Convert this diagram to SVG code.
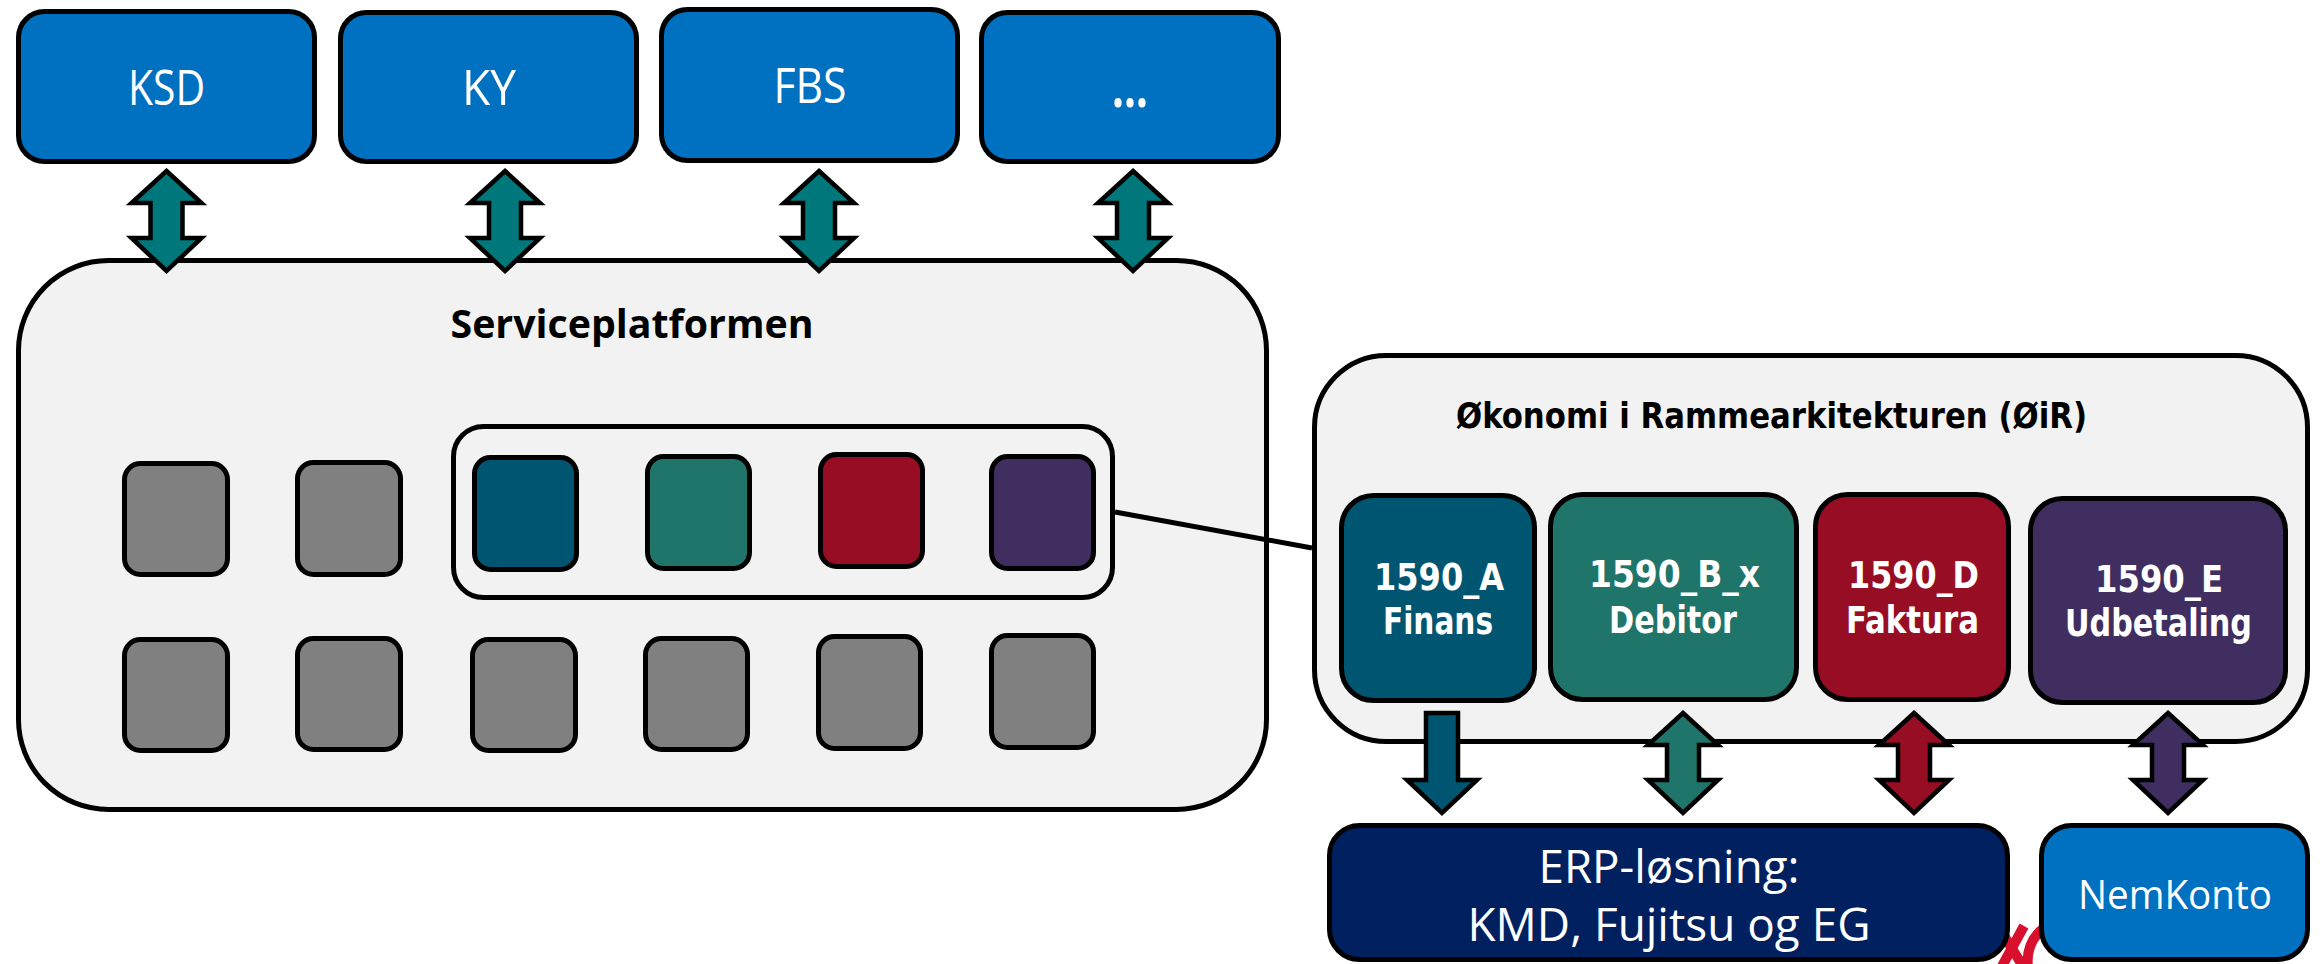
<svg xmlns="http://www.w3.org/2000/svg" width="2320" height="964" viewBox="0 0 2320 964">
<defs>
<style>
.box{stroke:#000;stroke-width:5}
.top{fill:#0070C0}
.plat{fill:#F2F2F2}
.sq{fill:#808080;stroke:#000;stroke-width:5}
.arr{stroke:#000;stroke-width:4.5;stroke-linejoin:miter;stroke-miterlimit:10}
.lbl{font-family:"Open Sans","Liberation Sans",sans-serif;fill:#fff;text-anchor:middle}
.oir{font-family:"DejaVu Sans","Liberation Sans",sans-serif;font-weight:bold;font-stretch:condensed;fill:#fff;text-anchor:middle;font-size:37px}
.c1{fill:#005670}.c2{fill:#20756A}.c3{fill:#970D24}.c4{fill:#3F2E5F}.teal{fill:#00777B}
</style>
<path id="dbl" d="M0,0 L35,32 L16,32 L16,67 L35,67 L0,100 L-35,67 L-16,67 L-16,32 L-35,32 Z"/>
<path id="down" d="M-16,0 L16,0 L16,67 L35,67 L0,100 L-35,67 L-16,67 Z"/>
</defs>
<rect width="2320" height="964" fill="#fff"/>

<g id="red-fragment" fill="none" stroke="#D9102D" stroke-width="10">
<path d="M2024,926 L2001,968"/>
<path d="M1998,926 L2024,968"/>
<path d="M2045,927 Q2025,942 2028,968"/>
</g>

<g id="KSD"><rect class="box top" x="18.5" y="11.5" width="296" height="150" rx="26"/><text class="lbl" x="166.5" y="105" font-size="50" textLength="77" lengthAdjust="spacingAndGlyphs">KSD</text></g>
<g id="KY"><rect class="box top" x="340.5" y="12.5" width="296" height="149" rx="26"/><text class="lbl" x="489" y="105" font-size="50" textLength="54" lengthAdjust="spacingAndGlyphs">KY</text></g>
<g id="FBS"><rect class="box top" x="661.5" y="9.5" width="296" height="151" rx="26"/><text class="lbl" x="810" y="103" font-size="50" textLength="73" lengthAdjust="spacingAndGlyphs">FBS</text></g>
<g id="more"><rect class="box top" x="981.5" y="12.5" width="297" height="149" rx="26"/><text class="lbl" x="1130" y="107" font-size="58" font-weight="bold" textLength="36" lengthAdjust="spacingAndGlyphs">…</text></g>

<g id="serviceplatformen">
<rect class="box plat" x="18.5" y="260.5" width="1248" height="549" rx="90"/>
<text x="632" y="338" font-family="'Open Sans','Liberation Sans',sans-serif" font-weight="bold" font-size="40" text-anchor="middle" textLength="363" lengthAdjust="spacingAndGlyphs" fill="#000">Serviceplatformen</text>
<rect class="sq" x="124.5" y="463.5" width="103" height="111" rx="16"/>
<rect class="sq" x="297.5" y="462.5" width="103" height="112" rx="16"/>
<rect x="453.5" y="426.5" width="659" height="171" rx="30" fill="#F2F2F2" stroke="#000" stroke-width="5"/>
<rect class="sq c1" x="474.5" y="457.5" width="102" height="112" rx="16"/>
<rect class="sq c2" x="647.5" y="456.5" width="102" height="112" rx="16"/>
<rect class="sq c3" x="820.5" y="454.5" width="102" height="112" rx="16"/>
<rect class="sq c4" x="991.5" y="456.5" width="102" height="112" rx="16"/>
<rect class="sq" x="124.5" y="639.5" width="103" height="111" rx="16"/>
<rect class="sq" x="297.5" y="638.5" width="103" height="111" rx="16"/>
<rect class="sq" x="472.5" y="639.5" width="103" height="111" rx="16"/>
<rect class="sq" x="645.5" y="638.5" width="102" height="111" rx="16"/>
<rect class="sq" x="818.5" y="636.5" width="102" height="112" rx="16"/>
<rect class="sq" x="991.5" y="635.5" width="102" height="112" rx="16"/>
</g>

<g id="oir">
<rect class="box plat" x="1314.5" y="355.5" width="993" height="386" rx="72"/>
<text x="1456" y="428" font-family="'DejaVu Sans','Liberation Sans',sans-serif" font-weight="bold" font-stretch="condensed" font-size="36" textLength="631" lengthAdjust="spacingAndGlyphs" fill="#000">Økonomi i Rammearkitekturen (ØiR)</text>
</g>
<g id="finans"><rect class="box c1" x="1341.5" y="495.5" width="193" height="205" rx="32"/><text class="oir" x="1439" y="590" textLength="130" lengthAdjust="spacingAndGlyphs">1590_A</text><text class="oir" x="1438" y="634" textLength="110" lengthAdjust="spacingAndGlyphs">Finans</text></g>
<g id="debitor"><rect class="box c2" x="1550.5" y="494.5" width="246" height="205" rx="32"/><text class="oir" x="1674.5" y="587" textLength="171" lengthAdjust="spacingAndGlyphs">1590_B_x</text><text class="oir" x="1673" y="633" textLength="128" lengthAdjust="spacingAndGlyphs">Debitor</text></g>
<g id="faktura"><rect class="box c3" x="1815.5" y="494.5" width="193" height="205" rx="32"/><text class="oir" x="1913.5" y="588" textLength="131" lengthAdjust="spacingAndGlyphs">1590_D</text><text class="oir" x="1912.5" y="633" textLength="133" lengthAdjust="spacingAndGlyphs">Faktura</text></g>
<g id="udbetaling"><rect class="box c4" x="2030.5" y="498.5" width="255" height="204" rx="32"/><text class="oir" x="2159" y="592" textLength="128" lengthAdjust="spacingAndGlyphs">1590_E</text><text class="oir" x="2158.5" y="636" textLength="187" lengthAdjust="spacingAndGlyphs">Udbetaling</text></g>

<g id="erp"><rect class="box" fill="#002060" x="1329.5" y="825.5" width="678" height="134" rx="30"/><text class="lbl" x="1669" y="883" font-size="46" textLength="261" lengthAdjust="spacingAndGlyphs">ERP-løsning:</text><text class="lbl" x="1669" y="941" font-size="46" textLength="403" lengthAdjust="spacingAndGlyphs">KMD, Fujitsu og EG</text></g>
<g id="nemkonto"><rect class="box top" x="2041.5" y="825.5" width="266" height="134" rx="30"/><text class="lbl" x="2175" y="909" font-size="40" textLength="194" lengthAdjust="spacingAndGlyphs">NemKonto</text></g>

<g id="connectors">
<line x1="1115" y1="512" x2="1312" y2="548" stroke="#000" stroke-width="5"/>
<use href="#dbl" class="arr teal" x="166.5" y="171"/>
<use href="#dbl" class="arr teal" x="505" y="171"/>
<use href="#dbl" class="arr teal" x="819" y="171"/>
<use href="#dbl" class="arr teal" x="1133" y="171"/>
<use href="#down" class="arr c1" x="1442" y="713"/>
<use href="#dbl" class="arr c2" x="1683" y="713"/>
<use href="#dbl" class="arr c3" x="1914" y="713"/>
<use href="#dbl" class="arr c4" x="2168" y="713"/>
</g>
</svg>
